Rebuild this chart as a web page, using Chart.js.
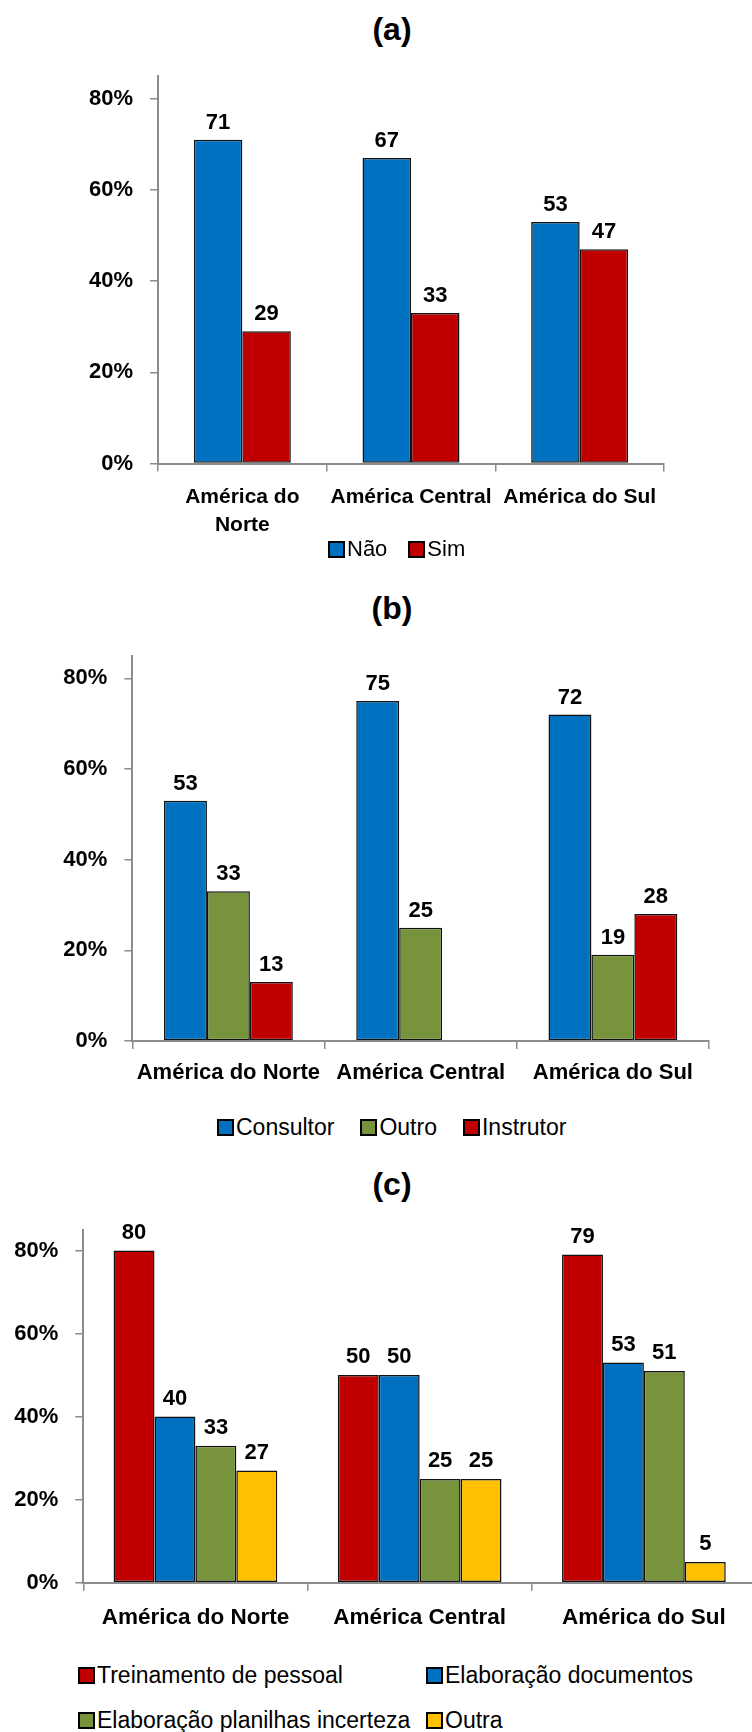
<!DOCTYPE html>
<html>
<head>
<meta charset="utf-8">
<script src="https://cdn.jsdelivr.net/npm/chart.js@4"></script>
<style>
  html, body { margin: 0; padding: 0; background: #fff; }
  body { position: relative; width: 752px; height: 1732px; overflow: hidden; font-family: "Liberation Sans", Arial, sans-serif; }
  canvas { position: absolute; left: 0; }
  .title { position: absolute; left: 292px; width: 200px; text-align: center; font-weight: bold; font-size: 32px; line-height: 38px; color: #000; }
  .legend { position: absolute; display: flex; align-items: center; font-size: 22px; line-height: 26px; color: #000; }
  .legend .item { display: flex; align-items: center; white-space: nowrap; }
  .legend .box { width: 13px; height: 13px; border: 2px solid #000; margin-right: 2px; }
  #legendA .item + .item { margin-left: 21px; }
  #legendB { font-size: 23px; }
  #legendB .item + .item { margin-left: 26px; }
  #legendC { display: grid; grid-template-columns: 348px auto; row-gap: 19px; font-size: 23px; }
</style>
</head>
<body>
  <div class="title" style="top:10px">(a)</div>
  <canvas id="chartA" width="752" height="540" style="top:0"></canvas>
  <div class="legend" id="legendA" style="top:536px; left:328px"></div>

  <div class="title" style="top:589px">(b)</div>
  <canvas id="chartB" width="752" height="520" style="top:580px"></canvas>
  <div class="legend" id="legendB" style="top:1114px; left:217px"></div>

  <div class="title" style="top:1165px">(c)</div>
  <canvas id="chartC" width="760" height="510" style="top:1140px"></canvas>
  <div class="legend" id="legendC" style="top:1662px; left:78px"></div>

<script>
// regions on the x axis
const regions = [['América do', 'Norte'], 'América Central', 'América do Sul'];
const regionsOneLine = ['América do Norte', 'América Central', 'América do Sul'];

// y axis: 0% .. 80% every 20, axis runs a little past 80
const yMax = 85;
const yStep = 20;

// (a) Não / Sim
const naoValues = [71, 67, 53];
const simValues = [29, 33, 47];

// (b) role
const consultorValues = [53, 75, 72];
const outroValues = [33, 25, 19];
const instrutorValues = [13, null, 28];

// (c) activity
const treinamentoValues = [80, 50, 79];
const documentosValues = [40, 50, 53];
const planilhasValues = [33, 25, 51];
const outraValues = [27, 25, 5];

const BLUE = '#0070C0';
const RED = '#C00000';
const GREEN = '#77933C';
const YELLOW = '#FFC000';
const AXIS = '#8c8c8c';
const FONT = '"Liberation Sans", Arial, sans-serif';

// numbers printed above each bar
const valueLabels = {
  id: 'valueLabels',
  afterDatasetsDraw(chart, args, opts) {
    const ctx = chart.ctx;
    ctx.save();
    ctx.font = 'bold ' + opts.size + 'px ' + FONT;
    ctx.fillStyle = '#000';
    ctx.textAlign = 'center';
    ctx.textBaseline = 'middle';
    chart.data.datasets.forEach((ds, i) => {
      chart.getDatasetMeta(i).data.forEach((bar, j) => {
        const v = ds.data[j];
        if (v === null || v === undefined) return;
        ctx.fillText(String(v), bar.x, bar.y - opts.offset);
      });
    });
    ctx.restore();
  }
};

const bar = (label, data, color) => ({
  label: label,
  data: data,
  backgroundColor: color,
  borderColor: '#111',
  borderWidth: 1.5,
  borderSkipped: false
});

function makeChart(id, cfg) {
  const canvas = document.getElementById(id);
  const bottomGap = canvas.height - cfg.plotBottom;
  return new Chart(canvas, {
    type: 'bar',
    data: { labels: cfg.labels, datasets: cfg.datasets },
    plugins: [valueLabels],
    options: {
      responsive: false,
      animation: false,
      devicePixelRatio: 1,
      layout: { padding: { top: cfg.plotTop, right: canvas.width - cfg.plotRight, bottom: 0, left: 0 } },
      datasets: { bar: { barPercentage: 1, categoryPercentage: cfg.groupWidth } },
      plugins: {
        legend: { display: false },
        tooltip: { enabled: false },
        valueLabels: { size: 22, offset: cfg.labelOffset }
      },
      scales: {
        x: {
          border: { display: true, color: AXIS, width: 2 },
          grid: { display: true, offset: true, drawOnChartArea: false, drawTicks: true, tickLength: 8, color: AXIS, lineWidth: 1.5 },
          ticks: { color: '#000', padding: cfg.xPad, maxRotation: 0, autoSkip: false,
                   font: { family: FONT, size: cfg.xSize, weight: 'bold', lineHeight: cfg.xLine } },
          afterFit: s => { s.height = bottomGap; }
        },
        y: {
          min: 0,
          max: yMax,
          border: { display: true, color: AXIS, width: 2 },
          grid: { display: true, drawOnChartArea: false, drawTicks: true, tickLength: 8, color: AXIS, lineWidth: 1.5 },
          ticks: { stepSize: yStep, includeBounds: false, padding: 17, color: '#000',
                   font: { family: FONT, size: 22, weight: 'bold' },
                   callback: v => v + '%' },
          afterFit: s => { s.width = cfg.plotLeft; }
        }
      }
    }
  });
}

// legend built from the chart's own datasets
function htmlLegend(chart, el) {
  chart.data.datasets.forEach(ds => {
    const item = document.createElement('div');
    item.className = 'item';
    const box = document.createElement('span');
    box.className = 'box';
    box.style.background = ds.backgroundColor;
    const text = document.createElement('span');
    text.textContent = ds.label;
    item.appendChild(box);
    item.appendChild(text);
    el.appendChild(item);
  });
}

const chartA = makeChart('chartA', {
  labels: regions,
  datasets: [bar('Não', naoValues, BLUE), bar('Sim', simValues, RED)],
  plotTop: 76, plotBottom: 463.5, plotLeft: 158, plotRight: 664,
  groupWidth: 0.575, labelOffset: 17, xSize: 21, xLine: 1.33, xPad: 12
});
htmlLegend(chartA, document.getElementById('legendA'));

const chartB = makeChart('chartB', {
  labels: regionsOneLine,
  datasets: [bar('Consultor', consultorValues, BLUE), bar('Outro', outroValues, GREEN), bar('Instrutor', instrutorValues, RED)],
  plotTop: 75.6, plotBottom: 461, plotLeft: 132.3, plotRight: 709,
  groupWidth: 0.67, labelOffset: 17, xSize: 22, xLine: 1.2, xPad: 11
});
htmlLegend(chartB, document.getElementById('legendB'));

const chartC = makeChart('chartC', {
  labels: regionsOneLine,
  datasets: [
    bar('Treinamento de pessoal', treinamentoValues, RED),
    bar('Elaboração documentos', documentosValues, BLUE),
    bar('Elaboração planilhas incerteza', planilhasValues, GREEN),
    bar('Outra', outraValues, YELLOW)
  ],
  plotTop: 89.7, plotBottom: 442.7, plotLeft: 83.3, plotRight: 756,
  groupWidth: 0.73, labelOffset: 18, xSize: 22.5, xLine: 1.2, xPad: 14
});
htmlLegend(chartC, document.getElementById('legendC'));
</script>
</body>
</html>
